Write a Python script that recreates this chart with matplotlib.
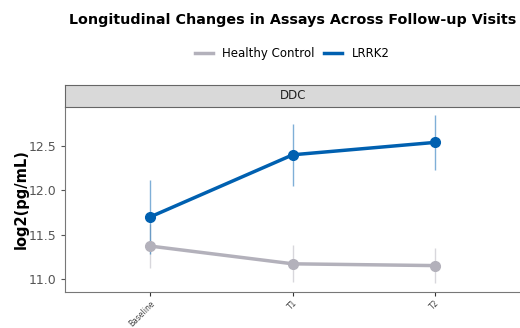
import matplotlib.pyplot as plt
from matplotlib.lines import Line2D

visits = ['Baseline', 'T1', 'T2']
groups = ['Healthy Control', 'LRRK2']
hc_mean = [11.37, 11.17, 11.15]
hc_err = [0.25, 0.21, 0.20]
lrrk2_mean = [11.70, 12.40, 12.54]
lrrk2_err = [0.42, 0.35, 0.31]
assay = 'DDC'

colors = {'Healthy Control': '#b3b1bb', 'LRRK2': '#0060b0'}
series = {'Healthy Control': (hc_mean, hc_err), 'LRRK2': (lrrk2_mean, lrrk2_err)}

fig = plt.figure(figsize=(5.2, 3.28), dpi=100)
ax = fig.add_axes([0.125, 0.11, 0.876, 0.564])
strip = fig.add_axes([0.125, 0.674, 0.876, 0.067])

x = list(range(len(visits)))
for g in groups:
    m, e = series[g]
    ax.errorbar(x, m, yerr=e, fmt='none', ecolor=colors[g], elinewidth=1, alpha=0.5, zorder=2)
    ax.plot(x, m, color=colors[g], lw=2.5, marker='o', ms=7, zorder=3)

ax.set_xlim(-0.6, 2.6)
ax.set_ylim(10.853, 12.94)
ax.set_yticks([11.0, 11.5, 12.0, 12.5])
ax.set_xticks(x)
ax.set_xticklabels(visits, rotation=45, ha='right', rotation_mode='anchor', fontsize=5.5, color='#444444')
ax.tick_params(axis='y', labelsize=9, labelcolor='#555555', color='#555555', length=3)
ax.tick_params(axis='x', color='#333333', length=3, pad=2)
ax.set_ylabel('log2(pg/mL)', fontsize=10.5, fontweight='bold', labelpad=-0.5)
for s in ['top', 'right']:
    ax.spines[s].set_visible(False)
for s in ['left', 'bottom']:
    ax.spines[s].set_color('#777777')

strip.set_facecolor('#d9d9d9')
strip.set_xticks([])
strip.set_yticks([])
for s in strip.spines.values():
    s.set_color('#666666')
strip.text(0.5, 0.5, assay, ha='center', va='center', fontsize=8.5, color='#222222', transform=strip.transAxes)

fig.text(0.562, 0.94, 'Longitudinal Changes in Assays Across Follow-up Visits',
         ha='center', va='center', fontsize=10.3, fontweight='bold')
handles = [Line2D([], [], color=colors[g], lw=2.5) for g in groups]
fig.legend(handles, groups, loc='center', bbox_to_anchor=(0.562, 0.838), ncol=2,
           frameon=False, fontsize=8.5, handlelength=1.5, columnspacing=0.8, handletextpad=0.8)

fig.savefig('out.png', dpi=100)
